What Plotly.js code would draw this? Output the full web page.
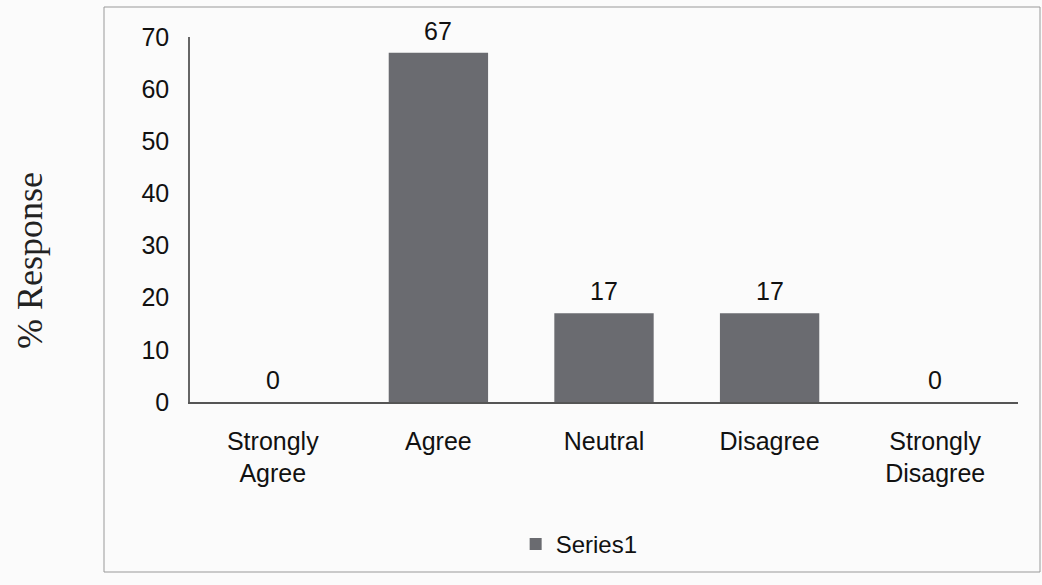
<!DOCTYPE html>
<html>
<head>
<meta charset="utf-8">
<script src="https://cdn.plot.ly/plotly-3.0.1.min.js"></script>
<style>html,body{margin:0;padding:0;background:#fbfbfb;}#chart{width:1042px;height:585px;}</style>
</head>
<body>
<div id="chart"></div>
<script>
const categories = ["Strongly<br>Agree", "Agree", "Neutral", "Disagree", "Strongly<br>Disagree"];
const values = [0, 67, 17, 17, 0];
const labels = ["0", "67", "17", "17", "0"];
const seriesName = "Series1";
const yTitle = "% Response";
const yTicks = [0, 10, 20, 30, 40, 50, 60, 70];

const trace = {
  type: "bar",
  x: categories,
  y: values,
  name: seriesName,
  marker: {color: "#6a6b70"},
  showlegend: true
};

const annotations = categories.map((c, i) => ({
  x: c, y: values[i], xref: "x", yref: "y", text: labels[i],
  showarrow: false, yanchor: "bottom", yshift: 6,
  font: {family: "Liberation Sans, Arial, sans-serif", size: 25, color: "#111"}
}));
annotations.push({
  xref: "paper", yref: "paper", x: (30 - 190) / 828, y: (402 - 261) / 365,
  xanchor: "center", yanchor: "middle", textangle: -90, showarrow: false,
  text: yTitle,
  font: {family: "Liberation Serif, Times New Roman, serif", size: 36, color: "#222"}
});

const layout = {
  width: 1042, height: 585,
  paper_bgcolor: "#fbfbfb", plot_bgcolor: "rgba(0,0,0,0)",
  margin: {l: 190, r: 24, t: 37, b: 183},
  bargap: 0.4,
  font: {family: "Liberation Sans, Arial, sans-serif", size: 25, color: "#111"},
  xaxis: {
    showline: true, linecolor: "#555", linewidth: 1.5,
    showgrid: false, ticks: "", tickfont: {size: 25}, ticklabelstandoff: 16
  },
  yaxis: {
    range: [0, 70], tickvals: yTicks, showline: true, linecolor: "#666", linewidth: 1.5,
    showgrid: false, zeroline: false, ticks: "", tickfont: {size: 25}, ticklabelstandoff: 14
  },
  annotations: annotations,
  legend: {orientation: "h", x: 0.47, xanchor: "center", y: -0.39, yanchor: "middle",
    font: {size: 24}, bgcolor: "rgba(0,0,0,0)"},
  shapes: [{type: "rect", xref: "paper", yref: "paper",
    x0: (104 - 190) / 828, x1: (1040 - 190) / 828,
    y0: (402 - 572) / 365, y1: (402 - 7) / 365,
    line: {color: "#999", width: 1}, fillcolor: "rgba(0,0,0,0)"}]
};

Plotly.newPlot("chart", [trace], layout, {displayModeBar: false});
</script>
</body>
</html>
